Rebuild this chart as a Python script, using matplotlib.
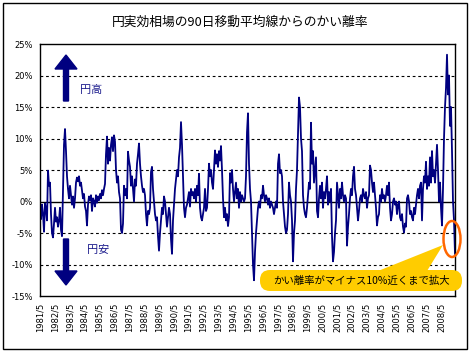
import numpy as np
import matplotlib
matplotlib.use("Agg")
import matplotlib.pyplot as plt
from matplotlib import patches

plt.rcParams['font.family'] = ['Noto Sans CJK JP', 'DejaVu Sans']

# 円実効相場の90日移動平均線からのかい離率 (%), 1981/5 ～ 2009/3 ごろ
deviation = [
    -1.0, -2.8, -0.5, -2.0, -4.8, -0.3, -1.2, -3.0, 4.9, 2.5,
    3.0, -2.0, -5.0, -5.7, -3.5, -1.0, -3.2, -2.5, -4.0, -3.0,
    -1.0, -4.5, -5.5, 1.5, 9.0, 11.5, 8.0, 4.0, 2.0, 0.5,
    2.5, 1.0, -0.5, 0.8, -1.0, 0.5, 3.0, 3.8, 3.2, 4.0,
    2.5, 3.0, 1.8, 0.5, 1.2, -0.8, -1.5, -3.8, -0.5, 0.8,
    0.2, 1.0, -1.5, 0.5, 0.0, -0.8, 1.0, -0.2, 0.8, 0.2,
    1.2, 0.5, 1.8, 1.0, 2.0, 2.8, 7.5, 10.3, 6.0, 8.5,
    6.5, 9.0, 10.2, 8.0, 10.5, 9.5, 5.0, 3.0, 4.0, 1.5,
    0.5, -4.5, -5.0, -3.5, 2.5, 1.0, 2.0, 0.5, 7.9, 6.5,
    5.5, 2.5, 4.0, 2.0, 0.0, 3.5, 2.5, 6.0, 7.5, 9.2,
    6.0, 4.0, 2.5, 1.5, 2.0, 1.0, -2.0, -3.8, -1.5, -2.0,
    -1.0, 4.7, 5.5, 2.0, 0.0, -2.0, -3.0, -2.5, -5.5, -7.8,
    -5.0, -3.0, -1.0, -2.0, 0.8, 0.0, -2.0, -4.0, -2.5, -1.0,
    -2.0, -6.0, -8.3, -3.0, -0.5, 2.0, 3.5, 5.0, 4.0, 7.0,
    8.5, 12.6, 9.0, 4.0, -1.0, -2.5, -1.0, -0.5, 0.5, 1.5,
    -0.8, 2.0, 1.0, 1.5, 0.5, 2.0, 0.0, 2.5, 1.0, 4.4,
    -1.0, -2.5, -3.0, -2.0, -1.0, 2.0, -1.5, -1.0, 2.0, 6.0,
    4.0, 5.0, 3.0, 2.0, 5.0, 8.1, 6.0, 7.5, 5.5, 8.0,
    6.5, 8.8, 5.0, 0.5, -2.5, -1.0, -3.0, -2.0, -3.9, -2.5,
    4.5, 3.0, 5.0, 2.0, 0.0, 1.5, 3.0, 0.5, 2.0, -1.0,
    1.5, 0.0, 1.0, 0.5, 0.0, 0.5, 4.0, 11.0, 14.0, 6.0,
    2.0, 0.0, -5.0, -10.0, -12.5, -8.0, -5.0, -3.0, -1.0, 0.0,
    -1.0, 1.0, 0.5, 2.5, 1.0, 0.0, 1.0, 0.5, -0.5, 0.5,
    -1.0, 0.0, -0.5, -1.0, -2.0, -1.0, 0.0, -1.0, 6.0, 7.5,
    4.5, 5.0, 4.0, 0.0, -2.0, -4.0, -5.0, -4.5, -2.0, 3.0,
    1.0, 0.0, -3.0, -9.5, -5.0, -3.0, 2.0, 5.0, 11.0, 16.5,
    15.0, 10.0, 8.0, 1.0, -1.0, -2.0, -2.5, -1.0, 1.0, 3.0,
    2.0, 12.5, 6.0, 8.0, 3.0, 5.0, 7.0, -1.5, -2.5, 0.5,
    2.5, 0.5, 3.0, -1.0, 1.5, 0.5, 2.0, 4.0, -0.5, 1.5,
    0.0, 2.0, -5.5, -9.5, -8.0, -5.0, -3.0, 3.0, 1.0, -1.0,
    2.0, 0.5, 3.0, 1.0, 0.0, 1.0, 0.5, -7.0, -4.0, -2.0,
    0.5, 2.0, 1.0, 4.0, 5.5, 2.0, 1.0, -1.0, -3.0, -1.5,
    0.5, 1.0, 0.0, 2.0, 1.0, 0.5, 1.5, -1.0, 0.5, 1.0,
    5.7, 5.0, 3.0, 1.5, 3.0, 1.0, -1.0, -3.8, -2.5, -2.0,
    1.0, 0.0, 2.0, 0.5, 1.0, 0.0, 1.0, 2.5, 1.0, 3.0,
    -1.0, -3.0, -2.0, 0.0, 0.5, -0.5, 0.0, -2.0, -0.5, 0.0,
    -2.5, -3.0, -2.0, -4.0, -4.9, -3.5, -4.0, 0.5, 1.0, 0.0,
    -2.0, -1.5, -2.5, -3.0, -1.0, -2.0, -0.5, 1.0, 2.0, 0.5,
    2.5, 3.0, -3.0, 2.0, 4.0, 3.0, 6.3, 2.0, 4.0, 2.5,
    7.0, 3.0, 8.0, 4.0, 5.0, 3.0, 6.0, 9.0, 5.0, 0.0,
    3.0, -1.0, -3.8, 2.0, 10.0, 15.0, 18.0, 23.3, 17.0, 20.0,
    12.0, 15.0, 8.0, 0.0, -3.0, -8.3,
]
start_year = 1981 + 4 / 12   # 1981/5
end_year = 2009.28
tick_labels = ["%d/5" % y for y in range(1981, 2009)]
y_ticks = [25, 20, 15, 10, 5, 0, -5, -10, -15]

W, H = 470, 353
fig = plt.figure(figsize=(W / 100, H / 100), dpi=100)
fig.patch.set_facecolor("white")

ax = fig.add_axes([40 / W, 1 - 296 / H, 415 / W, 252 / H])
x = np.linspace(start_year, end_year, len(deviation))
ax.plot(x, deviation, color="#000080", lw=1.3)
ax.set_xlim(start_year, end_year)
ax.set_ylim(-15, 25)

for v in y_ticks:
    if v in (25, -15):
        continue
    if v == 0:
        ax.axhline(0, color="black", lw=1.0, zorder=1)
    else:
        ax.axhline(v, color="black", lw=0.8, ls=(0, (2.5, 2.5)), zorder=1)

ax.set_yticks(y_ticks)
ax.set_yticklabels(["%d%%" % v for v in y_ticks], family="DejaVu Sans", fontsize=6)
ax.set_xticks([start_year + i for i in range(len(tick_labels))])
ax.set_xticklabels(tick_labels, rotation=90, family="DejaVu Sans", fontsize=6)
ax.tick_params(length=0, pad=5)
for s in ax.spines.values():
    s.set_color("black")
    s.set_linewidth(1.0)

fig.text(240 / W, 1 - 22 / H, "円実効相場の90日移動平均線からのかい離率",
         ha="center", va="center", fontsize=9.2)

# 装飾 (ピクセル座標のオーバーレイ)
ov = fig.add_axes([0, 0, 1, 1], facecolor="none")
ov.set_xlim(0, W)
ov.set_ylim(H, 0)
ov.axis("off")

navy = "#000080"
ov.add_patch(patches.FancyArrow(66, 101, 0, -46, width=5, head_width=22, head_length=14,
                                length_includes_head=True, color=navy))
ov.add_patch(patches.FancyArrow(66, 239, 0, 46, width=5, head_width=22, head_length=14,
                                length_includes_head=True, color=navy))
ov.text(80, 90, "円高", color="#1a1a8c", fontsize=8, va="center", ha="left")
ov.text(87, 250, "円安", color="#1a1a8c", fontsize=8, va="center", ha="left")

yellow = "#FFCC00"
ov.add_patch(patches.FancyBboxPatch((260, 270), 202, 21,
                                    boxstyle="round,pad=0,rounding_size=10",
                                    facecolor=yellow, edgecolor="none"))
ov.add_patch(patches.Polygon([(378, 271), (443, 245), (427, 271)],
                             facecolor=yellow, edgecolor="none"))
ov.text(361, 281, "かい離率がマイナス10%近くまで拡大", fontsize=7.5,
        ha="center", va="center", color="black")
ov.add_patch(patches.Ellipse((452, 239), 17, 36, fill=False,
                             edgecolor="#FF6600", lw=1.8))

ov.add_patch(patches.Rectangle((2.5, 2.5), 464, 346.5, fill=False,
                               edgecolor="black", lw=1.0))

fig.savefig("out.png", dpi=100)
